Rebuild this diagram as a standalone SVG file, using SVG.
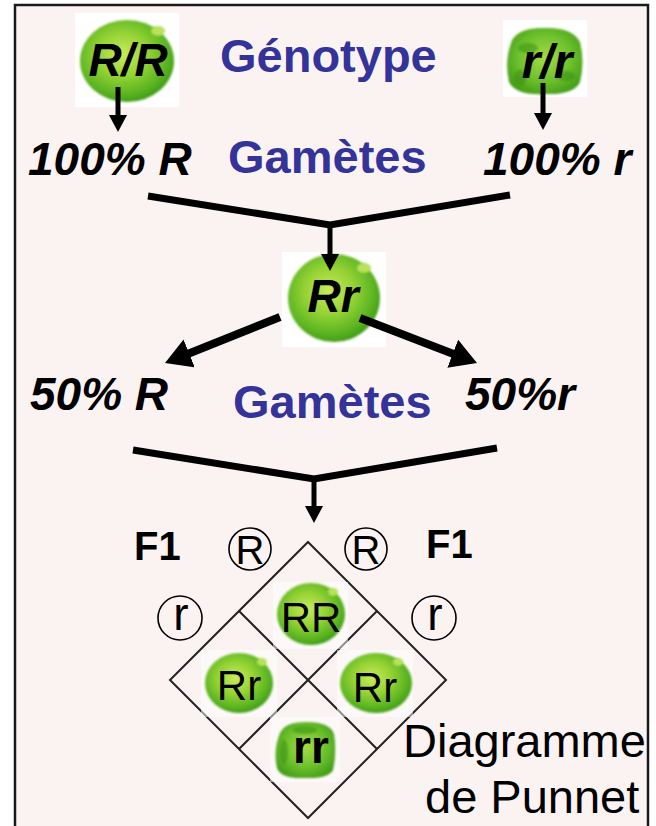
<svg xmlns="http://www.w3.org/2000/svg" width="656" height="826" viewBox="0 0 656 826">
  <defs>
    <radialGradient id="smooth" cx="0.45" cy="0.42" r="0.6">
      <stop offset="0" stop-color="#c9ec5c"/>
      <stop offset="0.45" stop-color="#94d234"/>
      <stop offset="0.8" stop-color="#5cb522"/>
      <stop offset="1" stop-color="#3f9a15"/>
    </radialGradient>
    <radialGradient id="wrinkled" cx="0.5" cy="0.45" r="0.65">
      <stop offset="0" stop-color="#a6dc46"/>
      <stop offset="0.55" stop-color="#6cc02c"/>
      <stop offset="1" stop-color="#3a9414"/>
    </radialGradient>
    <filter id="soft" x="-20%" y="-20%" width="140%" height="140%">
      <feGaussianBlur stdDeviation="1.2"/>
    </filter>
    <marker id="head-s" viewBox="0 0 17 18" markerWidth="17" markerHeight="18" refX="4" refY="9" orient="auto" markerUnits="userSpaceOnUse">
      <path d="M0,0 L17,9 L0,18 Z" fill="#000"/>
    </marker>
    <marker id="head-l" viewBox="0 0 26 30" markerWidth="26" markerHeight="30" refX="5" refY="15" orient="auto" markerUnits="userSpaceOnUse">
      <path d="M0,0 L26,15 L0,30 Z" fill="#000"/>
    </marker>
  </defs>
  <style>
    .title { font-family: "Liberation Sans", Arial, sans-serif; font-weight: bold; fill: #333399; font-size: 47px; }
    .gam { font-family: "Liberation Sans", Arial, sans-serif; font-weight: bold; font-style: italic; fill: #000; font-size: 46px; }
    .geno { font-family: "Liberation Sans", Arial, sans-serif; font-weight: bold; font-style: italic; fill: #000; text-anchor: middle; }
    .plain { font-family: "Liberation Sans", Arial, sans-serif; fill: #000; }
    .bold { font-family: "Liberation Sans", Arial, sans-serif; font-weight: bold; fill: #000; }
    .cell { font-family: "Liberation Sans", Arial, sans-serif; fill: #000; text-anchor: middle; font-size: 42px; }
    .bg { fill: #ffffff; }
    .cellbg { fill: #ffffff; opacity: 0.5; }
    .pea { fill: url(#smooth); filter: url(#soft); }
    .wpea { fill: url(#wrinkled); filter: url(#soft); }
    .blot { fill: #3a8f12; opacity: 0.55; filter: url(#soft); }
    .shine { fill: #b8e25a; filter: url(#soft); }
    .ring { fill: none; stroke: #000; stroke-width: 1.6; }
    .grid { fill: none; stroke: #222; stroke-width: 2; }
    .thick { fill: none; stroke: #000; stroke-width: 7; stroke-linejoin: miter; }
    .arr-s { stroke: #000; stroke-width: 5; marker-end: url(#head-s); }
    .arr-l { stroke: #000; stroke-width: 8; marker-end: url(#head-l); }
  </style>

  <!-- panel -->
  <rect x="15" y="5" width="633" height="840" fill="#fbf3f1" stroke="#1a1a1a" stroke-width="2.5"/>

  <!-- headings -->
  <g id="headings">
    <text class="title" x="220" y="72">Génotype</text>
    <text class="title" x="228" y="173">Gamètes</text>
    <text class="title" x="233" y="418">Gamètes</text>
  </g>

  <!-- parent RR -->
  <g id="parent-RR">
    <rect class="bg" x="75" y="13" width="104" height="94"/>
    <ellipse class="pea" cx="127" cy="61" rx="47" ry="41"/>
    <ellipse class="shine" cx="158" cy="31" rx="7" ry="5"/>
    <text class="geno" x="128" y="76" font-size="46">R/R</text>
  </g>

  <!-- parent rr -->
  <g id="parent-rr">
    <rect class="bg" x="503" y="20" width="84" height="77"/>
    <path class="wpea" d="M512,40 Q520,27 545,28 Q572,27 580,42 Q585,62 580,82 Q574,95 546,94 Q516,96 509,82 Q504,60 512,40 Z"/>
    <ellipse class="blot" cx="528" cy="48" rx="10" ry="5"/>
    <ellipse class="blot" cx="566" cy="76" rx="9" ry="5"/>
    <ellipse class="blot" cx="520" cy="78" rx="6" ry="8"/>
    <text class="geno" x="547" y="78" font-size="48">r/r</text>
  </g>

  <!-- parental gametes -->
  <g id="gametes-P">
    <text class="gam" x="28" y="175">100% R</text>
    <text class="gam" x="483" y="175">100% r</text>
  </g>

  <!-- hybrid Rr -->
  <g id="hybrid-Rr">
    <rect class="bg" x="282" y="252" width="104" height="95"/>
    <ellipse class="pea" cx="334" cy="298" rx="46" ry="44"/>
    <ellipse class="shine" cx="364" cy="268" rx="7" ry="5"/>
    <text class="geno" x="333" y="312" font-size="46">Rr</text>
  </g>

  <!-- hybrid gametes -->
  <g id="gametes-F">
    <text class="gam" x="30" y="410">50% R</text>
    <text class="gam" x="465" y="410">50%r</text>
  </g>

  <!-- Punnett square -->
  <g id="punnett">
    <text class="bold" x="134" y="560" font-size="40">F1</text>
    <text class="bold" x="426" y="558" font-size="40">F1</text>
    <circle class="ring" cx="250" cy="549" r="21"/>
    <text class="plain" x="250" y="564" font-size="40" text-anchor="middle">R</text>
    <circle class="ring" cx="366" cy="549" r="21"/>
    <text class="plain" x="366" y="564" font-size="40" text-anchor="middle">R</text>
    <circle class="ring" cx="180" cy="618" r="22"/>
    <text class="plain" x="181" y="630" font-size="46" text-anchor="middle">r</text>
    <circle class="ring" cx="434" cy="618" r="22"/>
    <text class="plain" x="435" y="630" font-size="46" text-anchor="middle">r</text>

    <path class="grid" d="M308,542 L446,680 L308,818 L170,680 Z"/>
    <path class="grid" d="M239,611 L377,749 M377,611 L239,749"/>

    <g id="cell-RR">
      <rect class="cellbg" x="273" y="582" width="75" height="67"/>
      <ellipse class="pea" cx="311" cy="614" rx="34" ry="31"/>
      <ellipse class="shine" cx="333" cy="592" rx="5" ry="4"/>
      <text class="cell" x="311" y="632">RR</text>
    </g>
    <g id="cell-Rr-left">
      <rect class="cellbg" x="201" y="650" width="76" height="67"/>
      <ellipse class="pea" cx="239" cy="683" rx="34" ry="30"/>
      <ellipse class="shine" cx="262" cy="662" rx="5" ry="4"/>
      <text class="cell" x="239" y="700" font-size="44">Rr</text>
    </g>
    <g id="cell-Rr-right">
      <rect class="cellbg" x="337" y="650" width="76" height="67"/>
      <ellipse class="pea" cx="376" cy="683" rx="36" ry="30"/>
      <ellipse class="shine" cx="398" cy="662" rx="5" ry="4"/>
      <text class="cell" x="375" y="702" font-size="44">Rr</text>
    </g>
    <g id="cell-rr">
      <rect class="cellbg" x="270" y="717" width="70" height="65"/>
      <path class="wpea" d="M280,733 Q285,722 306,722 Q330,722 334,734 Q337,752 333,770 Q328,779 305,778 Q281,779 277,768 Q273,750 280,733 Z"/>
      <ellipse class="blot" cx="284" cy="752" rx="4" ry="12"/>
      <ellipse class="blot" cx="305" cy="730" rx="12" ry="4"/>
      <text class="bold" x="311" y="763" font-size="46" text-anchor="middle">rr</text>
    </g>

    <text class="plain" x="403" y="757" font-size="47">Diagramme</text>
    <text class="plain" x="425" y="813" font-size="47">de Punnet</text>
  </g>

  <!-- connectors -->
  <g id="connectors">
    <line class="arr-s" x1="118" y1="87" x2="118" y2="119"/>
    <line class="arr-s" x1="543" y1="83" x2="543" y2="117"/>
    <polyline class="thick" points="148,196 330,225 510,195"/>
    <line class="arr-s" x1="330" y1="225" x2="330" y2="258"/>
    <line class="arr-l" x1="280" y1="317" x2="184.5" y2="355.2"/>
    <line class="arr-l" x1="360" y1="318" x2="457.4" y2="355.5"/>
    <polyline class="thick" points="133,450 314,479 497,448"/>
    <line class="arr-s" x1="314" y1="479" x2="314" y2="510"/>
  </g>
</svg>
